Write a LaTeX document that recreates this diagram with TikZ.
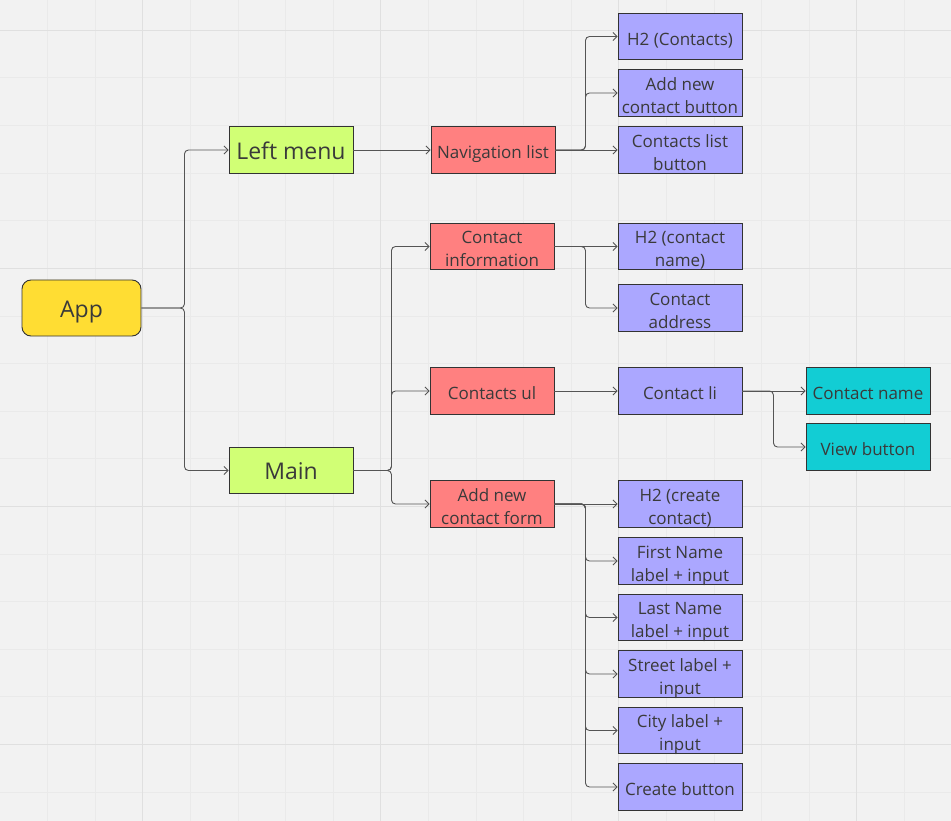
\documentclass[tikz,border=0pt]{standalone}
\usepackage{fontspec}
\setmainfont{Open Sans}
\usetikzlibrary{arrows.meta}

\definecolor{canvas}{HTML}{F2F2F2}
\definecolor{gridminor}{HTML}{EAEAEA}
\definecolor{gridmajor}{HTML}{E0E0E0}
\definecolor{appfill}{HTML}{FFDD33}
\definecolor{greenfill}{HTML}{D1FF75}
\definecolor{redfill}{HTML}{FF8080}
\definecolor{purplefill}{HTML}{ABA7FF}
\definecolor{cyanfill}{HTML}{12CDD4}
\definecolor{edgeline}{HTML}{333333}
\definecolor{textcol}{HTML}{3A3A3A}
\definecolor{wire}{HTML}{555555}

% centred, possibly multi-line label, drawn a little below the box centre
% while keeping its measured size
\newcommand{\boxtext}[1]{\raisebox{-4pt}[\height][\depth]{\begin{tabular}{@{}c@{}}#1\end{tabular}}}

\tikzset{
  box/.style={draw=edgeline, line width=0.9pt, rectangle, inner sep=0pt,
    minimum width=124pt, minimum height=46.5pt,
    text=textcol, font=\fontsize{17}{23}\selectfont},
  bigbox/.style={box, font=\fontsize{23}{26}\selectfont},
  appbox/.style={bigbox, fill=appfill, rounded corners=9pt,
    minimum width=119pt, minimum height=56pt},
  greenbox/.style={bigbox, fill=greenfill},
  redbox/.style={box, fill=redfill},
  purplebox/.style={box, fill=purplefill},
  cyanbox/.style={box, fill=cyanfill},
  conn/.style={draw=wire, line width=0.9pt, rounded corners=4pt,
    -{Straight Barb[length=4pt,width=8pt,line width=0.8pt]}},
}

\begin{document}
\begin{tikzpicture}[x=1pt,y=-1pt]
  % canvas and board grid
  \fill[canvas] (0,0) rectangle (951,821);
  \useasboundingbox (0,0) rectangle (951,821);
  \foreach \k in {1,...,19} {
    \draw[gridminor, line width=0.8pt] (47.6*\k-0.1,0) -- (47.6*\k-0.1,821);
  }
  \foreach \k in {0,...,16} {
    \draw[gridminor, line width=0.8pt] (0,30.3+47.6*\k) -- (951,30.3+47.6*\k);
  }
  \foreach \k in {3,8,13,18} {
    \draw[gridmajor, line width=1pt] (47.6*\k-0.1,0) -- (47.6*\k-0.1,821);
  }
  \foreach \k in {0,5,10,15} {
    \draw[gridmajor, line width=1pt] (0,30.3+47.6*\k) -- (951,30.3+47.6*\k);
  }

  % root and first level
  \node[appbox] (app) at (81.5,308) {\boxtext{App}};
  \node[greenbox] (left) at (291,150) {\boxtext{Left menu}};
  \node[greenbox] (main) at (291,470.5) {\boxtext{Main}};

  % second level
  \node[redbox] (nav) at (493,150) {\boxtext{Navigation list}};
  \node[redbox] (cinfo) at (492,246.5) {\boxtext{Contact\\information}};
  \node[redbox] (cul) at (492,391) {\boxtext{Contacts ul}};
  \node[redbox] (aform) at (492,504) {\boxtext{Add new\\contact form}};

  % leaves
  \node[purplebox] (h2c) at (680,36.5) {\boxtext{H2 (Contacts)}};
  \node[purplebox] (addbtn) at (680,93) {\boxtext{Add new\\contact button}};
  \node[purplebox] (listbtn) at (680,150) {\boxtext{Contacts list\\button}};
  \node[purplebox] (h2n) at (680,246.5) {\boxtext{H2 (contact\\name)}};
  \node[purplebox] (addr) at (680,308) {\boxtext{Contact\\address}};
  \node[purplebox] (li) at (680,391) {\boxtext{Contact li}};
  \node[purplebox] (h2cr) at (680,504) {\boxtext{H2 (create\\contact)}};
  \node[purplebox] (first) at (680,561) {\boxtext{First Name\\label + input}};
  \node[purplebox] (last) at (680,617.5) {\boxtext{Last Name\\label + input}};
  \node[purplebox] (street) at (680,674) {\boxtext{Street label +\\input}};
  \node[purplebox] (city) at (680,730.5) {\boxtext{City label +\\input}};
  \node[purplebox] (create) at (680,787) {\boxtext{Create button}};

  \node[cyanbox] (cname) at (868,391) {\boxtext{Contact name}};
  \node[cyanbox] (view) at (868,447) {\boxtext{View button}};

  % connectors
  \draw[conn] (app.east) -- ++(43,0) |- (left.west);
  \draw[conn] (app.east) -- ++(43,0) |- (main.west);

  \draw[conn] (left.east) -- (nav.west);

  \draw[conn] (main.east) -- ++(38,0) |- (cinfo.west);
  \draw[conn] (main.east) -- ++(38,0) |- (cul.west);
  \draw[conn] (main.east) -- ++(38,0) |- (aform.west);

  \draw[conn] (nav.east) -- ++(30,0) |- (h2c.west);
  \draw[conn] (nav.east) -- ++(30,0) |- (addbtn.west);
  \draw[conn] (nav.east) -- (listbtn.west);

  \draw[conn] (cinfo.east) -- (h2n.west);
  \draw[conn] (cinfo.east) -- ++(31,0) |- (addr.west);

  \draw[conn] (cul.east) -- (li.west);

  \draw[conn] (li.east) -- (cname.west);
  \draw[conn] (li.east) -- ++(31,0) |- (view.west);

  \draw[conn] (aform.east) -- (h2cr.west);
  \foreach \t in {first,last,street,city,create} {
    \draw[conn] (aform.east) -- ++(31,0) |- (\t.west);
  }
\end{tikzpicture}
\end{document}
